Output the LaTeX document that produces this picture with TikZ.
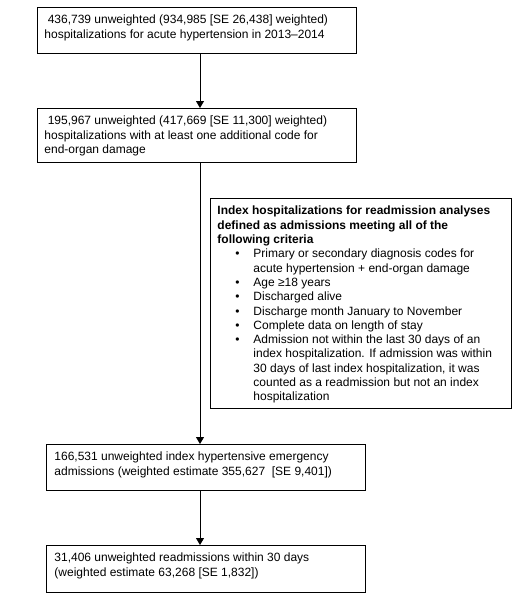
\documentclass[tikz,border=0pt]{standalone}
\usepackage{fontspec}
\setmainfont{Liberation Sans}
\usetikzlibrary{arrows.meta}
\tikzset{
  box/.style={draw, line width=0.9pt, inner xsep=7pt, inner ysep=0pt, anchor=north west,
    font=\fontsize{12}{14.3}\selectfont},
  arr/.style={-{Triangle[width=8pt,length=7pt]}, line width=0.9pt}
}
\newcommand{\bx}[3]{\begin{minipage}[t][#2][t]{#1}\vspace*{6.5pt}\strut #3\end{minipage}}
\newcommand{\crit}[1]{\hspace*{18pt}\makebox[18pt][l]{\textbullet}#1}
\newcommand{\critc}[1]{\hspace*{36pt}#1}
\begin{document}
\begin{tikzpicture}[x=1pt,y=-1pt]
\useasboundingbox (0,0) rectangle (518,600);
\coordinate (ax) at (200,0);
\node[box] (n1) at (37,7) {\bx{305pt}{46pt}{\hspace*{0.278em}436,739 unweighted (934,985 [SE 26,438] weighted)\\hospitalizations for acute hypertension in 2013–2014}};
\node[box] (n2) at (37,108) {\bx{305pt}{54pt}{\hspace*{0.278em}195,967 unweighted (417,669 [SE 11,300] weighted)\\hospitalizations with at least one additional code for\\end-organ damage}};
\node[box] (crit) at (210,198) {\bx{287pt}{210pt}{\textbf{Index hospitalizations for readmission analyses\\defined as admissions meeting all of the\\following criteria}\\
\crit{Primary or secondary diagnosis codes for}\\
\critc{acute hypertension + end-organ damage}\\
\crit{Age ≥18 years}\\
\crit{Discharged alive}\\
\crit{Discharge month January to November}\\
\crit{Complete data on length of stay}\\
\crit{Admission not within the last 30 days of an}\\
\critc{index hospitalization. If admission was within}\\
\critc{30 days of last index hospitalization, it was}\\
\critc{counted as a readmission but not an index}\\
\critc{hospitalization}}};
\node[box, inner xsep=8pt] (n3) at (46,444) {\bx{303pt}{46pt}{166,531 unweighted index hypertensive emergency\\admissions (weighted estimate 355,627 \ [SE 9,401])}};
\node[box, inner xsep=8pt] (n4) at (46,545) {\bx{303pt}{47pt}{31,406 unweighted readmissions within 30 days\\(weighted estimate 63,268 [SE 1,832])}};
\draw[arr] (n1.south -| ax) -- (n2.north -| ax);
\draw[arr] (n2.south -| ax) -- (n3.north -| ax);
\draw[arr] (n3.south -| ax) -- (n4.north -| ax);
\end{tikzpicture}
\end{document}
